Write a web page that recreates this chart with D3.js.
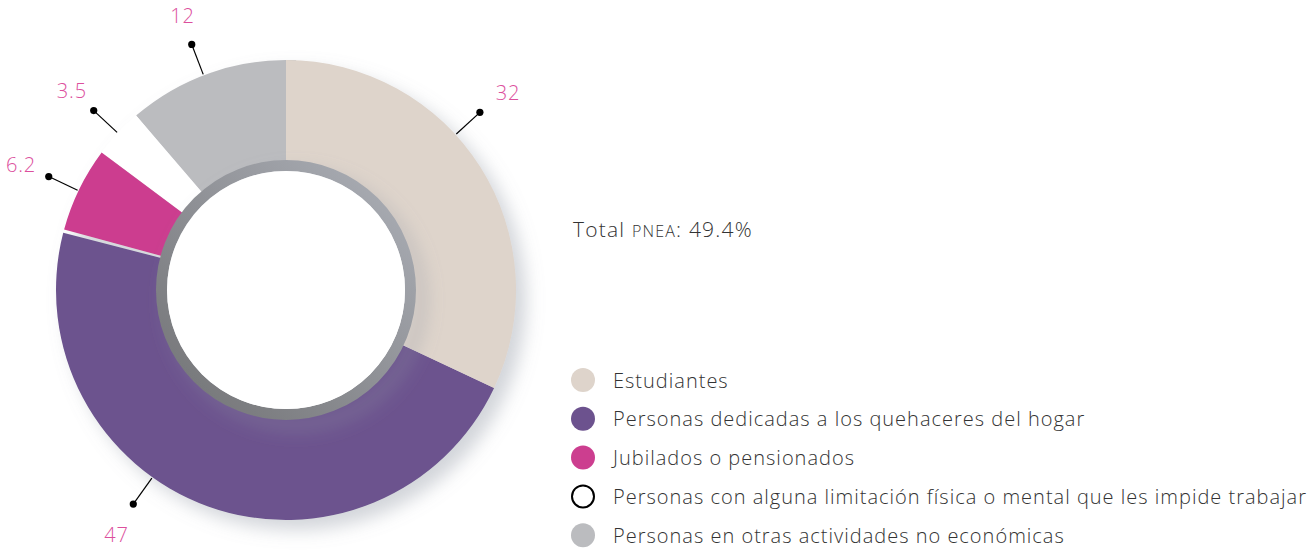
<!DOCTYPE html>
<meta charset="utf-8">
<script src="https://d3js.org/d3.v7.min.js"></script>
<style>
  body { margin: 0; background: #fff; }
  text { font-family: "Open Sans", sans-serif; }
</style>
<svg id="chart" width="1314" height="550"></svg>
<script>
// data
var categories = [
  "Estudiantes",
  "Personas dedicadas a los quehaceres del hogar",
  "Jubilados o pensionados",
  "Personas con alguna limitación física o mental que les impide trabajar",
  "Personas en otras actividades no económicas"
];
var values = [32, 47, 6.2, 3.5, 12];
var valueLabels = ["32", "47", "6.2", "3.5", "12"];
var colors = ["#ded4cb", "#6c528e", "#cc3e8f", "#ffffff", "#bbbcbf"];
var totalLabel = { pre: "Total ", caps: "PNEA", post: ": 49.4%" };

var svg = d3.select("#chart");
var cx = 286, cy = 290, rOuter = 230, rInner = 126;

var defs = svg.append("defs");
var sh = defs.append("filter").attr("id", "shadow")
    .attr("x", "-30%").attr("y", "-30%").attr("width", "160%").attr("height", "160%");
sh.append("feDropShadow")
    .attr("dx", 10).attr("dy", 10).attr("stdDeviation", 9)
    .attr("flood-color", "#8f95a3").attr("flood-opacity", 0.4);

var ringGrad = defs.append("linearGradient").attr("id", "ringGrad")
    .attr("x1", "90%").attr("y1", "10%").attr("x2", "10%").attr("y2", "90%");
ringGrad.append("stop").attr("offset", "0%").attr("stop-color", "#a7aab1");
ringGrad.append("stop").attr("offset", "100%").attr("stop-color", "#77787b");

// values are percentages (they add up to a bit over 100), so 100 = full circle
var angle = d3.scaleLinear().domain([0, 100]).range([0, 2 * Math.PI]);
var cum = d3.cumsum(values);
var arcs = values.map(function(v, i) {
  return { index: i, value: v, startAngle: angle(cum[i] - v), endAngle: angle(cum[i]) };
});

var arc = d3.arc().innerRadius(rInner).outerRadius(rOuter);

var g = svg.append("g").attr("transform", "translate(" + cx + "," + cy + ")");

// draw in reverse so the first slice sits on top of any overlap
g.append("g").attr("filter", "url(#shadow)")
  .selectAll("path")
  .data(arcs.slice().reverse())
  .enter()
  .append("path")
    .attr("d", function(d) {
      // small separation in front of the "Jubilados" slice
      var s = d.index == 2 ? d.startAngle + 0.015 : d.startAngle;
      return arc({ startAngle: s, endAngle: d.endAngle });
    })
    .attr("fill", function(d) { return colors[d.index]; });

// inner ring
g.append("circle").attr("r", 124.5)
    .attr("fill", "none")
    .attr("stroke", "url(#ringGrad)")
    .attr("stroke-width", 11)
    .attr("filter", "url(#shadow)");
g.append("circle").attr("r", 119).attr("fill", "#fff");

// leader lines and value labels (angles in degrees, clockwise from top)
var labelAngles = [47.5, 215.5, null, null, 339];
arcs.forEach(function(d, i) {
  var a = labelAngles[i] != null ? labelAngles[i] * Math.PI / 180 : (d.startAngle + d.endAngle) / 2;
  var sx = Math.sin(a), sy = -Math.cos(a);
  g.append("line")
      .attr("x1", sx * 231).attr("y1", sy * 231)
      .attr("x2", sx * 263).attr("y2", sy * 263)
      .attr("stroke", "#000").attr("stroke-width", 1.2);
  g.append("circle")
      .attr("cx", sx * 263).attr("cy", sy * 263).attr("r", 3.6)
      .attr("fill", "#000");
  g.append("text")
      .attr("x", sx * 297 + 3).attr("y", sy * 297 + 3)
      .attr("text-anchor", "middle")
      .attr("dominant-baseline", "central")
      .style("font-size", "20px")
      .style("font-weight", 300)
      .style("letter-spacing", "0.8px")
      .style("fill", "#dc4f9d")
      .text(valueLabels[i]);
});

// total
var t = svg.append("text").attr("x", 573).attr("y", 237)
    .style("font-size", "21px").style("font-weight", 300)
    .style("letter-spacing", "1.2px").style("fill", "#333");
t.append("tspan").text(totalLabel.pre);
t.append("tspan").style("font-size", "16px").text(totalLabel.caps);
t.append("tspan").text(totalLabel.post);

// legend
var legend = svg.append("g")
  .selectAll("g")
  .data(categories)
  .enter()
  .append("g")
    .attr("transform", function(d, i) { return "translate(583," + (380 + i * 38.8) + ")"; });

legend.append("circle")
    .attr("r", function(d, i) { return colors[i] == "#ffffff" ? 11 : 12; })
    .attr("fill", function(d, i) { return colors[i]; })
    .attr("stroke", function(d, i) { return colors[i] == "#ffffff" ? "#000" : "none"; })
    .attr("stroke-width", 2);

legend.append("text")
    .attr("x", 30)
    .attr("dominant-baseline", "central")
    .style("font-size", "20px")
    .style("font-weight", 300)
    .style("letter-spacing", "1px")
    .style("fill", "#333")
    .text(function(d) { return d; });
</script>
